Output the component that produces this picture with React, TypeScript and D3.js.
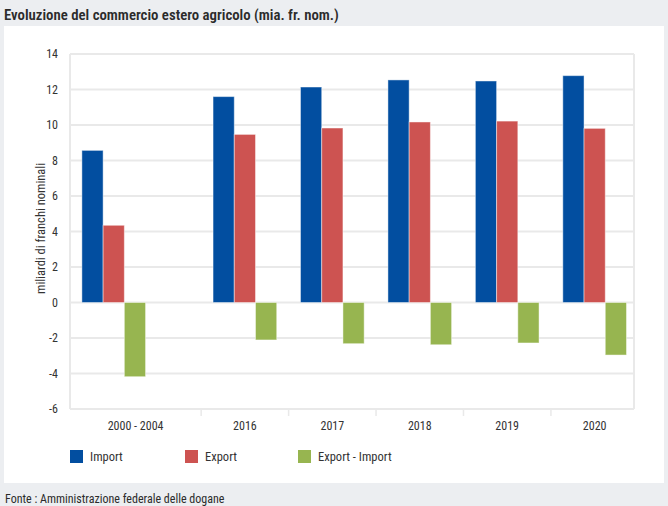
import React, { useEffect } from "react";
import * as d3 from "d3";

const categories = ["2000 - 2004", "2016", "2017", "2018", "2019", "2020"];
const seriesNames = ["Import", "Export", "Export - Import"];
const importValues = [8.57, 11.6, 12.14, 12.54, 12.48, 12.78];
const exportValues = [4.35, 9.47, 9.83, 10.17, 10.22, 9.81];
const balanceValues = [-4.18, -2.11, -2.32, -2.38, -2.28, -2.96];
const yTicks = [-6, -4, -2, 0, 2, 4, 6, 8, 10, 12, 14];
const colors = ["#024ea0", "#cd5351", "#97b550"];
// category band widths in slot units (first category is wider)
const bandWidths = [1.5, 1, 1, 1, 1, 0.95];

const W = 668;
const H = 506;
const FONT = "'Liberation Sans Narrow', 'Roboto Condensed', 'DejaVu Sans Condensed', Roboto, sans-serif";

export default function App() {
  useEffect(() => {
    document.body.style.margin = "0";
  }, []);

  const left = 70, right = 634, top = 54, bottom = 409;
  const starts: number[] = [];
  let acc = 0;
  bandWidths.forEach((w) => { starts.push(acc); acc += w; });
  const x = d3.scaleLinear().domain([0, acc]).range([left, right]);
  const y = d3.scaleLinear().domain([-6, 14]).range([bottom, top]);
  const inner = d3.scaleBand<string>().domain(seriesNames).range([0, 1]).paddingInner(0).paddingOuter(0.56);
  const series = [importValues, exportValues, balanceValues];
  const grid = "#e9e9e9";

  return (
    <div style={{ position: "absolute", left: 0, top: 0 }}>
      <svg width={W} height={H} style={{ display: "block" }} fontFamily={FONT}>
        <rect x={0} y={0} width={W} height={H} fill="#eceef1" />
        <rect x={4} y={26} width={660} height={457} fill="#ffffff" />
        <text x={4} y={20} fontSize={14.8} fontWeight={600} fill="#2b2b2b">
          Evoluzione del commercio estero agricolo (mia. fr. nom.)
        </text>
        {/* gridlines */}
        {yTicks.map((t) => (
          <line key={"g" + t} x1={left} x2={right} y1={y(t)} y2={y(t)} stroke={grid} strokeWidth={2} />
        ))}
        <line x1={left} x2={left} y1={top} y2={bottom} stroke={grid} strokeWidth={2} />
        <line x1={right} x2={right} y1={top} y2={bottom} stroke={grid} strokeWidth={2} />
        {/* category separators */}
        {starts.slice(1).map((s, i) => (
          <line key={"s" + i} x1={x(s)} x2={x(s)} y1={bottom} y2={bottom + 7} stroke={grid} strokeWidth={1.5} />
        ))}
        {/* y tick labels */}
        {yTicks.map((t) => (
          <text key={"t" + t} x={58} y={y(t)} dy="0.35em" textAnchor="end" fontSize={12} fill="#333">
            {t}
          </text>
        ))}
        <text transform={`translate(45, ${(y(-6) + y(14)) / 2 - 3}) rotate(-90)`} textAnchor="middle" fontSize={12.5} fill="#333">
          miliardi di franchi nominali
        </text>
        {/* bars */}
        {categories.map((c, ci) =>
          series.map((vals, si) => {
            const v = vals[ci];
            const x0 = x(starts[ci] + (inner(seriesNames[si]) as number));
            const x1 = x(starts[ci] + (inner(seriesNames[si]) as number) + inner.bandwidth());
            const y0 = y(Math.max(0, v));
            const y1 = y(Math.min(0, v));
            return (
              <rect key={c + si} x={x0} y={y0} width={x1 - x0} height={y1 - y0} fill={colors[si]}
                stroke="rgba(255,255,255,0.45)" strokeWidth={1} />
            );
          })
        )}
        {/* x labels */}
        {categories.map((c, ci) => (
          <text key={"x" + c} x={x(starts[ci] + (ci === 0 ? bandWidths[0] / 2 : 0.5))} y={426} dy="0.35em"
            textAnchor="middle" fontSize={12} fill="#333">
            {c}
          </text>
        ))}
        {/* legend */}
        {seriesNames.map((s, i) => {
          const lx = [70, 185, 298][i];
          return (
            <g key={"l" + s}>
              <rect x={lx} y={450} width={13} height={13} fill={colors[i]} />
              <text x={lx + 20} y={456.5} dy="0.35em" fontSize={12.5} fill="#333">{s}</text>
            </g>
          );
        })}
        <text x={5} y={499} dy="0.35em" fontSize={12} fill="#2b2b2b">
          Fonte : Amministrazione federale delle dogane
        </text>
      </svg>
    </div>
  );
}
